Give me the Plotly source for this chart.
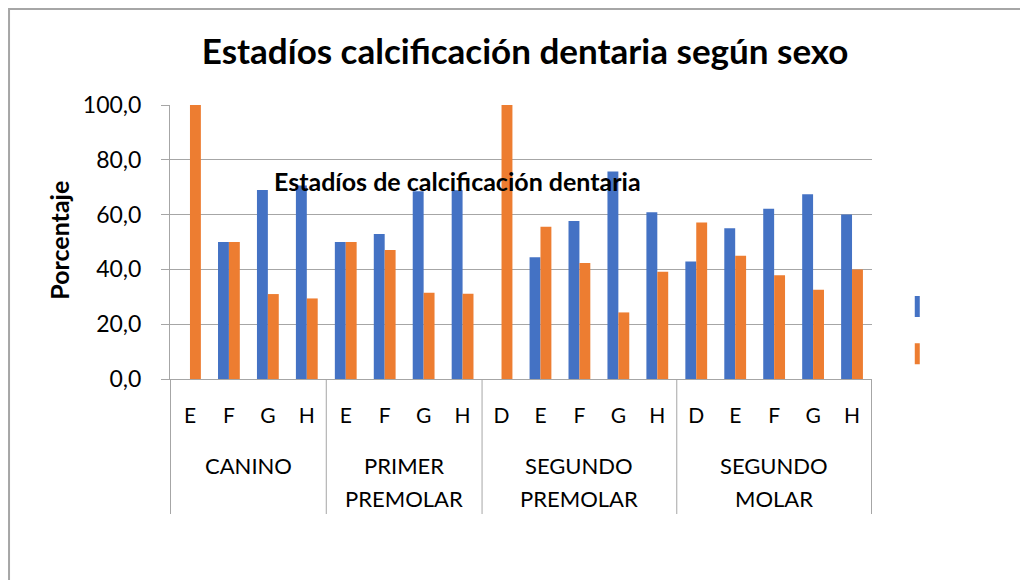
import plotly.graph_objects as go

teeth = ["CANINO"] * 4 + ["PRIMER PREMOLAR"] * 4 + ["SEGUNDO PREMOLAR"] * 5 + ["SEGUNDO MOLAR"] * 5
stages = ["E", "F", "G", "H", "E", "F", "G", "H", "D", "E", "F", "G", "H", "D", "E", "F", "G", "H"]
masculino = [0, 50.0, 69.0, 70.6, 50.0, 52.9, 68.5, 68.9, 0, 44.4, 57.7, 75.7, 60.9, 42.9, 55.0, 62.1, 67.4, 60.0]
femenino = [100.0, 50.0, 31.0, 29.4, 50.0, 47.1, 31.5, 31.1, 100.0, 55.6, 42.3, 24.3, 39.1, 57.1, 45.0, 37.9, 32.6, 40.0]
y_ticks = [0, 20, 40, 60, 80, 100]

FONT = "Lato"
BLUE, ORANGE, GRID = "#4472C4", "#ED7D31", "#A6A6A6"

# unique category keys (tooth + stage), shown with the stage letter only
keys = [f"{t} | {s}" for t, s in zip(teeth, stages)]

fig = go.Figure()
fig.add_trace(go.Bar(x=keys, y=masculino, name=" ", showlegend=False,
                     marker=dict(color=BLUE, line=dict(width=0))))
fig.add_trace(go.Bar(x=keys, y=femenino, name=" ", showlegend=False,
                     marker=dict(color=ORANGE, line=dict(width=0))))
# legend keys (thin vertical bars like the original)
for c in (BLUE, ORANGE):
    fig.add_trace(go.Scatter(x=[None], y=[None], mode="markers", name=" ",
                             marker=dict(symbol="line-ns", size=15, color=c, line=dict(width=5, color=c))))

# group spans on the category axis
spans = []
start = 0
for i in range(1, len(teeth) + 1):
    if i == len(teeth) or teeth[i] != teeth[start]:
        spans.append((teeth[start], start, i - 1))
        start = i

# page-pixel helper (plot area: y 105..379 on page)
def py(p):
    return (379 - p) / 274

shapes = [dict(type="rect", xref="paper", yref="paper", x0=-0.2293, x1=1.3, y0=-1.2, y1=1.3504,
               line=dict(color=GRID, width=2), fillcolor="rgba(0,0,0,0)", layer="below")]
annotations = []
bounds = [spans[0][1] - 0.5] + [s[2] + 0.5 for s in spans]
for b in bounds:
    shapes.append(dict(type="line", xref="x", yref="paper", x0=b, x1=b, y0=0, y1=py(514),
                       line=dict(color=GRID, width=1)))
for name, a, b in spans:
    for k, word in enumerate(name.split(" ")):
        annotations.append(dict(text=word, xref="x", yref="paper", x=(a + b) / 2, y=py(465 + 33 * k),
                                xanchor="center", yanchor="middle", showarrow=False,
                                font=dict(family=FONT, size=22, color="#000000")))

annotations += [
    dict(text="<b>Estadíos de calcificación dentaria</b>", xref="paper", yref="paper",
         x=0.409, y=0.7226, xanchor="center", yanchor="middle", showarrow=False,
         font=dict(family=FONT, size=25, color="#000000")),
    dict(text="<b>Porcentaje</b>", xref="paper", yref="paper", x=-0.158, y=0.505,
         xanchor="center", yanchor="middle",
         textangle=-90, showarrow=False, font=dict(family=FONT, size=25, color="#000000")),
]

W, H = 1020, 572
fig.update_layout(
    width=W, height=H,
    margin=dict(l=162, r=156, t=97, b=201),
    paper_bgcolor="white", plot_bgcolor="white",
    separators=",.",
    barmode="group", bargap=0.44, bargroupgap=0,
    font=dict(family=FONT, size=18, color="#000000"),
    title=dict(text="<b>Estadíos calcificación dentaria según sexo</b>", x=0.507, xanchor="center",
               y=1 - 44 / H, yanchor="middle", font=dict(family=FONT, size=35, color="#000000")),
    showlegend=True,
    legend=dict(x=1.036, y=0.177, xanchor="left", yanchor="middle", font=dict(size=34),
                bgcolor="rgba(0,0,0,0)", itemwidth=30),
    xaxis=dict(type="category", categoryorder="array", categoryarray=keys,
               tickmode="array", tickvals=keys, ticktext=stages,
               showline=True, linecolor=GRID, linewidth=1, ticks="",
               ticklabelstandoff=18,
               tickfont=dict(family=FONT, size=21), showgrid=False),
    yaxis=dict(range=[0, 100], tickvals=y_ticks, tickformat=".1f", showgrid=True,
               gridcolor=GRID, gridwidth=1, showline=True, linecolor=GRID,
               ticks="outside", ticklen=8, tickcolor=GRID, ticklabelstandoff=15,
               tickfont=dict(family=FONT, size=23), zeroline=False),
    shapes=shapes,
    annotations=annotations,
)

fig.write_html("out.html")
